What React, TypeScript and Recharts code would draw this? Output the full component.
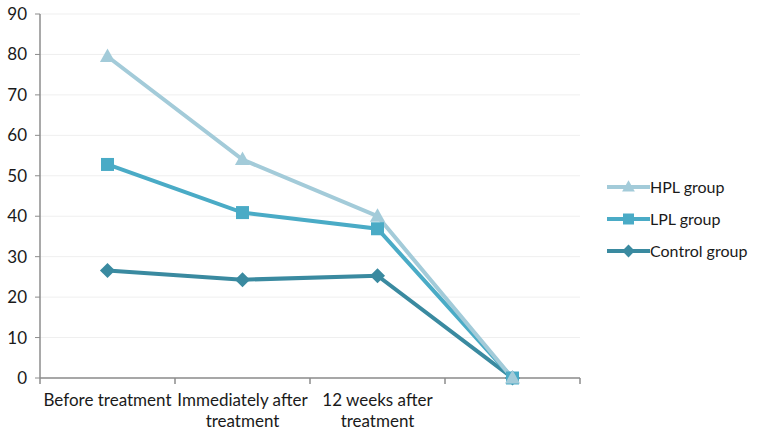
import { CartesianGrid, Legend, Line, LineChart, XAxis, YAxis } from "recharts";

const categories = ["Before treatment", "Immediately after\ntreatment", "12 weeks after\ntreatment", ""];
const hplValues = [79.5, 54, 40, 0];
const lplValues = [52.8, 40.9, 36.9, 0];
const controlValues = [26.6, 24.3, 25.3, 0];
const yTicks = [0, 10, 20, 30, 40, 50, 60, 70, 80, 90];

const data = categories.map((c, i) => ({
  cat: c,
  hpl: hplValues[i],
  lpl: lplValues[i],
  control: controlValues[i],
}));

const FONT = "Lato, 'Open Sans', sans-serif";
const AXIS = "#8c8c8c";
const C_HPL = "#a3cbd9";
const C_LPL = "#4aabc6";
const C_CTRL = "#3a8aa0";

type Shape = "triangle" | "square" | "diamond";

function markerPath(shape: Shape, cx: number, cy: number, s: number) {
  if (shape === "triangle") return `M${cx},${cy - s * 0.62} L${cx + s * 0.58},${cy + s * 0.42} L${cx - s * 0.58},${cy + s * 0.42} Z`;
  if (shape === "square") return `M${cx - s / 2},${cy - s / 2} h${s} v${s} h${-s} Z`;
  return `M${cx},${cy - s * 0.58} L${cx + s * 0.58},${cy} L${cx},${cy + s * 0.58} L${cx - s * 0.58},${cy} Z`;
}

const makeDot = (shape: Shape, color: string) => (p: any) => {
  if (p.cx == null || p.cy == null) return <g key={p.index} />;
  return <path key={p.index} d={markerPath(shape, p.cx, p.cy, 13)} fill={color} />;
};

// category label plus tick marks on the band boundaries (Excel "between categories")
function CatTick(p: any) {
  const lines = String(p.payload.value).split("\n");
  const n = p.visibleTicksCount || categories.length;
  const bw = (Number(p.width) || 540) / n;
  const last = p.index === n - 1;
  return (
    <g transform={`translate(${p.x},${p.y})`}>
      <line x1={-bw / 2} x2={-bw / 2} y1={0} y2={6} stroke={AXIS} strokeWidth={1.5} />
      {last && <line x1={bw / 2} x2={bw / 2} y1={0} y2={6} stroke={AXIS} strokeWidth={1.5} />}
      {lines.map((l, i) => (
        <text key={i} x={0} y={28 + i * 21} textAnchor="middle" fontFamily={FONT} fontSize={17} fill="#1a1a1a">
          {l}
        </text>
      ))}
    </g>
  );
}

const legendItems: { name: string; color: string; shape: Shape }[] = [
  { name: "HPL group", color: C_HPL, shape: "triangle" },
  { name: "LPL group", color: C_LPL, shape: "square" },
  { name: "Control group", color: C_CTRL, shape: "diamond" },
];

function LegendBox() {
  return (
    <svg width={150} height={90}>
      {legendItems.map((it, i) => {
        const y = 10 + i * 32;
        return (
          <g key={it.name}>
            <line x1={0} x2={43} y1={y} y2={y} stroke={it.color} strokeWidth={4} />
            <path d={markerPath(it.shape, 21.5, y, 11)} fill={it.color} />
            <text x={43} y={y + 5.5} fontFamily={FONT} fontSize={16} fill="#1a1a1a">{it.name}</text>
          </g>
        );
      })}
    </svg>
  );
}

export default function App() {
  return (
    <div style={{ position: "absolute", left: 0, top: 0, width: 760, height: 441, background: "#fff" }}>
      <LineChart width={760} height={441} data={data} margin={{ top: 14, right: 180, left: 0, bottom: 0 }}>
        <CartesianGrid vertical={false} stroke="#efefef" />
        <XAxis
          dataKey="cat"
          scale="band"
          height={63}
          axisLine={{ stroke: AXIS, strokeWidth: 1.5 }}
          tickLine={false}
          tickSize={0}
          tickMargin={0}
          tick={<CatTick />}
          interval={0}
        />
        <YAxis
          width={40}
          domain={[0, 90]}
          ticks={yTicks}
          tickSize={5}
          tickMargin={8}
          stroke={AXIS}
          axisLine={{ stroke: AXIS, strokeWidth: 1.5 }}
          tick={{ fontFamily: FONT, fontSize: 17, fill: "#1a1a1a" }}
        />
        <Legend
          layout="vertical"
          align="center"
          verticalAlign="middle"
          wrapperStyle={{ left: 607, top: 177, width: 150 }}
          content={<LegendBox />}
        />
        <Line dataKey="control" name="Control group" stroke={C_CTRL} strokeWidth={4} dot={makeDot("diamond", C_CTRL)} isAnimationActive={false} />
        <Line dataKey="lpl" name="LPL group" stroke={C_LPL} strokeWidth={4} dot={makeDot("square", C_LPL)} isAnimationActive={false} />
        <Line dataKey="hpl" name="HPL group" stroke={C_HPL} strokeWidth={4} dot={makeDot("triangle", C_HPL)} isAnimationActive={false} />
      </LineChart>
    </div>
  );
}
